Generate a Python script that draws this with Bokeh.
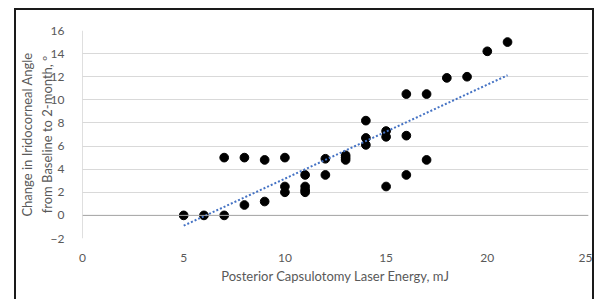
import numpy as np
from bokeh.plotting import figure
from bokeh.models import FixedTicker, Span, Range1d
from bokeh.embed import file_html
from bokeh.resources import INLINE

# Data
energy = [5, 6, 7, 7, 8, 8, 9, 9, 10, 10, 10, 11, 11, 11, 11, 12, 12,
          13, 13, 13, 14, 14, 14, 15, 15, 15, 16, 16, 16, 17, 17, 18, 19, 20, 21]
angle_change = [0, 0, 0, 5.0, 5.0, 0.9, 4.8, 1.2, 5.0, 2.5, 2.0, 3.5, 2.5, 2.2, 2.0, 4.9, 3.5,
                5.2, 5.0, 4.8, 8.2, 6.7, 6.1, 7.3, 6.8, 2.5, 10.5, 6.9, 3.5, 10.5, 4.8, 11.9, 12.0, 14.2, 15.0]
x_ticks = [0, 5, 10, 15, 20, 25]
y_ticks = [-2, 0, 2, 4, 6, 8, 10, 12, 14, 16]
x_title = "Posterior Capsulotomy Laser Energy, mJ"
y_title = "Change in Iridocorneal Angle\nfrom Baseline to 2-month, º"

# Linear trendline (least squares) over the data's x range
slope, intercept = np.polyfit(energy, angle_change, 1)
trend_x = [min(energy), max(energy)]
trend_y = [slope * v + intercept for v in trend_x]

FONT = "Lato"
GRAY = "#595959"

p = figure(width=580, height=291, output_backend="svg", toolbar_location=None,
           x_range=Range1d(0, 25), y_range=Range1d(-2, 16),
           min_border_left=66, min_border_right=8, min_border_top=20, min_border_bottom=63)
p.margin = (8, 0, 0, 14)
p.styles = {"border-top": "2px solid #1a1a1a", "border-left": "2px solid #1a1a1a",
            "border-right": "2px solid #1a1a1a"}
p.outline_line_color = None
p.background_fill_color = "white"
p.border_fill_color = "white"

p.xaxis.ticker = FixedTicker(ticks=x_ticks)
p.yaxis.ticker = FixedTicker(ticks=y_ticks)
for ax in (p.xaxis[0], p.yaxis[0]):
    ax.axis_line_color = None
    ax.major_tick_line_color = None
    ax.minor_tick_line_color = None
    ax.major_label_text_font = FONT
    ax.major_label_text_font_size = "12px"
    ax.major_label_text_color = GRAY
    ax.axis_label_text_font = FONT
    ax.axis_label_text_font_size = "13px"
    ax.axis_label_text_color = GRAY
    ax.axis_label_text_font_style = "normal"
p.xaxis.major_label_standoff = 9
p.yaxis.major_label_standoff = 12
p.xaxis.axis_label = x_title
p.xaxis.axis_label_standoff = 3
p.yaxis.axis_label = y_title
p.yaxis.axis_label_standoff = -7

p.xgrid.grid_line_color = None
p.ygrid.grid_line_color = "#D9D9D9"
p.ygrid.grid_line_width = 1

p.add_layout(Span(location=0, dimension="width", line_color="#A6A6A6", line_width=1))
p.add_layout(Span(location=0, dimension="height", line_color="#BFBFBF", line_width=1))

p.scatter(energy, angle_change, size=8.7, color="black")
p.line(trend_x, trend_y, line_color="#4472C4", line_width=2, line_dash="2 2")

open("out.html", "w").write(file_html(p, INLINE))
